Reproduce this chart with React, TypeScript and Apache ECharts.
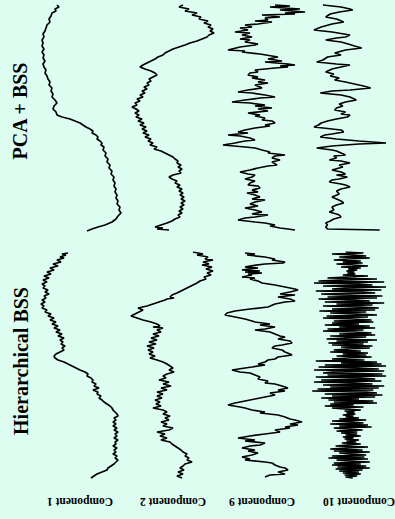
import React, { useEffect, useRef } from "react";
import * as echarts from "echarts";

// Time axis (samples, 0..228) and amplitude (arbitrary units, -50..50) per component.
const TIME_MAX = 228;

// ---- PCA + BSS ----
const pcaComp1: number[][] = [
  [1,-23],[3,-21],[5,-25],[7,-24],[9,-28],[12,-29],[15,-31],[18,-30],[21,-33],[24,-34],[27,-35],[30,-37],[33,-36],[36,-38],[39,-37],[42,-38],[45,-36],[48,-38],[51,-36],[54,-37],[57,-35],[60,-37],[63,-36],[66,-34],[69,-35],[72,-33],[75,-32],[78,-30],[81,-31],[84,-28],[87,-29],[90,-27],[93,-28],[96,-25],[99,-23],[102,-26],[105,-27],[108,-24],[111,-23],[113,-18],[115,-10],[117,-5],[119,0],[121,3],[123,6],[125,10],[127,13],[129,12],[131,16],[133,18],[135,17],[137,20],[139,22],[141,21],[143,24],[146,23],[149,26],[152,25],[155,28],[158,27],[161,30],[164,29],[167,32],[170,31],[173,34],[176,33],[179,35],[182,34],[185,36],[188,35],[191,37],[194,36],[197,38],[200,37],[203,40],[206,39],[209,41],[212,38],[215,36],[218,32],[221,25],[223,18],[225,12],[227,7]
];
const pcaComp2: number[][] = [
  [1,8],[3,4],[5,14],[7,10],[9,22],[11,17],[13,26],[15,24],[17,33],[19,29],[21,36],[23,33],[25,38],[27,35],[29,39],[31,34],[33,32],[35,27],[37,22],[39,15],[41,10],[43,4],[45,-2],[47,-6],[49,-10],[51,-12],[53,-17],[55,-20],[57,-24],[59,-28],[61,-32],[63,-35],[65,-30],[67,-24],[69,-20],[71,-18],[73,-22],[75,-26],[77,-24],[79,-28],[81,-26],[83,-31],[85,-28],[87,-33],[89,-30],[91,-35],[93,-32],[95,-38],[97,-35],[99,-40],[101,-38],[103,-43],[105,-39],[107,-36],[109,-40],[111,-36],[113,-39],[115,-33],[117,-37],[119,-31],[121,-35],[123,-29],[125,-33],[127,-28],[129,-32],[131,-26],[133,-30],[135,-24],[137,-27],[139,-22],[141,-25],[143,-18],[145,-21],[147,-14],[149,-10],[151,-6],[153,-2],[155,0],[157,3],[159,2],[161,6],[163,3],[165,7],[167,4],[169,6],[171,-2],[173,-6],[175,-3],[177,2],[179,0],[181,5],[183,2],[185,7],[187,4],[189,8],[191,5],[193,9],[195,6],[197,10],[199,6],[201,9],[203,5],[205,8],[207,4],[209,7],[211,3],[213,5],[215,0],[217,-3],[219,-8],[221,-14],[223,-20],[224,-12],[225,-18],[226,-6]
];
const pcaComp9: number[][] = [
  [1,15],[2,30],[3,10],[5,40],[6,20],[8,45],[9,25],[10,35],[11,2],[13,20],[14,5],[16,8],[17,-5],[18,12],[20,-2],[21,-15],[23,-8],[24,-20],[26,-12],[28,-25],[29,-10],[31,-18],[33,-8],[35,-20],[36,-10],[38,-15],[40,-2],[41,-5],[43,-20],[45,-28],[46,-32],[47,-15],[48,-18],[50,0],[52,12],[53,18],[55,8],[57,22],[58,5],[60,28],[61,35],[62,20],[63,28],[64,15],[66,-5],[68,-2],[69,-10],[71,-12],[73,-2],[74,-8],[76,5],[78,-2],[79,8],[81,-5],[83,0],[84,2],[86,-12],[88,-22],[89,-8],[91,5],[93,15],[94,0],[96,-15],[98,-28],[99,-10],[101,5],[102,-5],[104,12],[105,-2],[107,8],[109,-12],[111,0],[112,-5],[114,5],[116,2],[117,12],[119,15],[121,5],[122,10],[124,-5],[126,-15],[128,-22],[129,-12],[131,-32],[132,-20],[134,-10],[136,-5],[137,-15],[139,-25],[141,-37],[143,-15],[144,-5],[146,2],[148,10],[149,8],[151,25],[152,15],[154,12],[156,20],[158,12],[161,17],[162,8],[164,-2],[166,-10],[168,-20],[170,-12],[171,-5],[173,-8],[175,-15],[177,-5],[179,-10],[181,-12],[182,-2],[184,0],[186,-8],[188,-2],[189,-13],[191,-5],[193,0],[195,-8],[196,5],[198,-5],[200,-10],[202,-2],[204,-15],[206,-5],[208,2],[210,-8],[211,8],[213,-5],[214,-15],[216,-22],[218,-5],[219,5],[221,15],[222,10],[224,20],[225,28],[226,35]
];
const pcaComp10: number[][] = [
  [1,-30],[3,-10],[5,0],[6,3],[8,-12],[10,-22],[13,-27],[15,-15],[18,-7],[20,-20],[23,-32],[26,-40],[28,-20],[31,0],[33,-5],[34,-15],[36,-27],[38,-10],[40,-2],[42,5],[44,13],[46,-5],[49,-17],[51,-10],[53,-25],[56,-30],[58,-37],[60,-15],[61,0],[63,-10],[65,-20],[68,-27],[70,-18],[72,-22],[74,-12],[76,-17],[78,-5],[80,5],[82,15],[84,23],[86,0],[87,-20],[89,-33],[91,-10],[93,0],[96,7],[98,-5],[100,-12],[102,-8],[104,-15],[106,-17],[108,-5],[110,-10],[111,0],[113,-3],[115,-15],[117,-25],[119,-32],[121,-35],[123,-40],[125,-20],[126,-10],[128,-7],[130,-20],[131,-28],[133,-33],[135,-15],[137,10],[139,40],[140,10],[142,-20],[144,-37],[146,-20],[147,-15],[149,-10],[151,-5],[152,-18],[154,-15],[156,-23],[157,-10],[159,0],[161,-12],[163,-8],[166,-20],[168,-10],[170,-5],[171,-15],[173,-3],[175,-12],[176,-20],[178,-23],[180,-10],[181,-5],[183,0],[185,-10],[187,-15],[190,-12],[193,-20],[195,-15],[197,-10],[199,-7],[201,-15],[203,-20],[206,-18],[208,-23],[210,-15],[211,-12],[213,-10],[215,-18],[217,-22],[219,-27],[221,-25],[223,-27],[225,-25],[226,33]
];

// ---- Hierarchical BSS ----
const hierComp1: number[][] = [
  [1,-12],[2,-18],[3,-14],[5,-20],[6,-16],[8,-23],[10,-19],[12,-27],[14,-22],[16,-30],[18,-26],[20,-33],[22,-29],[24,-36],[26,-31],[28,-37],[30,-33],[32,-38],[34,-35],[36,-37],[38,-32],[40,-35],[42,-31],[44,-36],[46,-34],[48,-38],[50,-35],[52,-39],[54,-36],[56,-38],[58,-33],[60,-35],[62,-29],[64,-32],[66,-26],[68,-30],[70,-24],[72,-28],[74,-22],[76,-26],[78,-20],[80,-24],[82,-18],[84,-22],[86,-16],[88,-20],[90,-17],[92,-19],[94,-15],[96,-18],[98,-16],[100,-20],[102,-24],[104,-26],[106,-25],[108,-22],[110,-16],[112,-12],[114,-8],[116,-4],[118,0],[120,5],[122,8],[124,7],[126,11],[128,13],[130,12],[132,16],[134,14],[136,19],[138,13],[140,18],[142,17],[144,21],[146,19],[148,22],[150,24],[152,27],[154,30],[156,32],[158,33],[160,35],[162,37],[164,38],[166,34],[168,36],[170,33],[172,36],[174,33],[176,37],[178,34],[180,38],[182,35],[184,37],[186,34],[188,38],[190,35],[192,36],[194,33],[196,37],[198,34],[200,36],[202,33],[204,37],[206,35],[208,38],[210,36],[212,34],[214,31],[216,28],[218,27],[220,22],[222,17],[224,14],[226,11]
];
const hierComp2: number[][] = [
  [0,18],[2,28],[3,22],[5,33],[7,30],[8,38],[10,28],[12,34],[13,27],[15,37],[17,31],[19,38],[21,32],[23,36],[25,29],[27,31],[29,25],[31,22],[33,18],[35,14],[37,10],[39,6],[41,2],[43,-3],[45,-5],[46,-1],[47,-8],[48,-10],[50,-16],[52,-22],[54,-28],[56,-37],[58,-32],[60,-36],[62,-40],[64,-44],[66,-38],[68,-32],[70,-24],[72,-18],[74,-15],[75,-22],[76,-12],[78,-18],[80,-14],[82,-22],[84,-16],[86,-24],[88,-18],[90,-26],[92,-19],[94,-28],[96,-21],[98,-27],[100,-22],[102,-26],[104,-20],[106,-25],[108,-18],[110,-12],[112,-8],[114,-5],[116,-2],[118,-6],[120,-1],[122,-8],[124,-12],[126,-9],[128,-16],[130,-6],[132,-12],[134,-4],[136,-14],[138,-8],[140,-18],[142,-12],[144,-18],[146,-13],[148,-20],[150,-15],[152,-19],[154,-14],[156,-22],[158,-12],[160,-8],[162,-12],[164,-5],[166,-10],[168,-6],[170,-14],[172,-8],[174,-12],[176,-2],[178,-6],[180,-18],[182,-10],[184,-15],[186,-8],[188,-14],[190,-5],[192,-3],[194,0],[196,3],[198,6],[200,8],[202,12],[204,10],[206,14],[208,12],[210,17],[212,10],[214,8],[216,5],[218,9],[220,3],[222,8],[224,2],[226,7]
];
const hierComp9: number[][] = [
  [1,-15],[2,-5],[3,-13],[5,5],[7,15],[8,12],[10,25],[11,23],[12,5],[14,-10],[15,-15],[16,-2],[17,-12],[18,-18],[19,0],[20,-15],[21,2],[22,-12],[23,-8],[25,-18],[26,-5],[27,-10],[29,-2],[31,2],[33,15],[35,25],[37,35],[38,38],[40,30],[42,20],[43,35],[45,18],[47,30],[49,35],[50,25],[52,15],[55,8],[57,-10],[59,-25],[61,-33],[63,-35],[65,-25],[67,-15],[69,-8],[70,-5],[72,10],[73,0],[75,15],[77,5],[78,-5],[80,10],[82,15],[84,20],[85,25],[87,18],[89,30],[91,32],[93,22],[94,15],[96,12],[98,22],[100,25],[102,30],[103,32],[105,18],[107,15],[108,8],[110,5],[112,-2],[113,5],[115,-8],[116,-15],[118,-28],[120,-20],[121,-10],[123,-5],[125,0],[127,-2],[129,8],[131,5],[132,15],[134,22],[136,28],[138,18],[139,25],[141,10],[143,15],[145,5],[147,-5],[149,-15],[151,-25],[153,-32],[155,-20],[156,-15],[158,-8],[160,5],[161,0],[163,18],[165,25],[167,30],[168,35],[170,42],[172,30],[173,38],[175,25],[176,30],[178,15],[180,20],[182,5],[184,-10],[186,-22],[188,-5],[189,-15],[191,5],[193,0],[194,-10],[196,-18],[198,-5],[199,-12],[201,-2],[203,-8],[205,-18],[207,-10],[208,-15],[210,5],[211,12],[213,15],[215,20],[216,25],[218,28],[220,18],[222,25],[223,10],[225,5]
];
// one value per time sample (t = index)
const hierComp10: number[] = [
  -5,15,-20,4,18,-12,22,-3,-18,12,-8,
  14,-15,3,20,-10,12,-2,8,-4,5,-3,6,
  -8,20,-5,-25,30,-12,-35,38,-40,10,25,-30,40,-6,-20,35,-38,15,28,-32,-10,36,-25,30,-35,5,22,-28,38,-15,25,-30,12,32,-20,28,
  -34,18,-22,8,30,-26,20,-30,2,24,-18,26,-20,10,-28,22,-12,28,-25,15,
  -30,4,24,-12,28,-22,18,-6,-26,30,-15,20,-24,15,-20,25,-10,22,-4,-18,12,-22,20,-8,18,-15,24,-2,-20,16,
  -38,30,-10,35,-28,40,-35,8,32,-40,38,-20,-30,36,-25,40,-38,12,28,-32,35,-40,5,25,-30,38,-22,32,-36,26,-42,18,30,-28,36,
  -20,28,-32,10,-24,26,-18,30,-22,4,-28,15,-20,-6,12,
  -6,5,-4,6,-8,4,-5,10,
  -12,18,-20,3,15,-22,20,-12,24,-18,-4,14,-15,8,
  -10,8,-5,12,-8,4,-6,10,-4,7,-9,12,-3,
  -16,20,-5,-22,14,-18,22,-12,2,18,-20,16,-24,20,-15,-3,22,-18,12,-20,18,-14,22,-16,14,
  -12,10,-8,12,-6,8,-5,3
];

const panelTitles = ["PCA + BSS", "Hierarchical BSS"];
const componentLabels = ["Component 1", "Component 2", "Component 9", "Component 10"];

const laneCenters = [80, 175, 260, 355];
const panelTops = [4, 252];

export default function App() {
  const ref = useRef<HTMLDivElement>(null);
  useEffect(() => {
    if (!ref.current) return;
    const chart = echarts.init(ref.current, undefined, { renderer: "svg" });
    const panels = [
      [pcaComp1, pcaComp2, pcaComp9, pcaComp10],
      [hierComp1, hierComp2, hierComp9, hierComp10.map((v, i) => [i, v])],
    ];
    const grid: any[] = [];
    const xAxis: any[] = [];
    const yAxis: any[] = [];
    const series: any[] = [];
    panels.forEach((lanes, p) => {
      lanes.forEach((data, l) => {
        const idx = grid.length;
        grid.push({ left: laneCenters[l] - 50, width: 100, top: panelTops[p], height: TIME_MAX });
        xAxis.push({ type: "value", gridIndex: idx, min: -50, max: 50, show: false });
        yAxis.push({ type: "value", gridIndex: idx, min: 0, max: TIME_MAX, inverse: true, show: false });
        series.push({
          type: "line",
          xAxisIndex: idx,
          yAxisIndex: idx,
          data: data.map(([t, v]) => [v, t]),
          showSymbol: false,
          lineStyle: { color: "#000", width: 1.7 },
          silent: true,
        });
      });
    });
    const font = '"Liberation Serif", "Times New Roman", serif';
    const graphic: any[] = [
      {
        type: "text", x: 20, y: 111, rotation: Math.PI / 2,
        style: { text: panelTitles[0], fontSize: 20, fontWeight: "bold", fontFamily: font, fill: "#000", align: "center", verticalAlign: "middle", textAlign: "center", textVerticalAlign: "middle" },
      },
      {
        type: "text", x: 21, y: 361, rotation: Math.PI / 2,
        style: { text: panelTitles[1], fontSize: 20, fontWeight: "bold", fontFamily: font, fill: "#000", align: "center", verticalAlign: "middle", textAlign: "center", textVerticalAlign: "middle" },
      },
    ];
    const labelX = [80, 173, 262, 359];
    componentLabels.forEach((txt, i) => {
      graphic.push({
        type: "text", x: labelX[i], y: 502, rotation: Math.PI,
        style: { text: txt, fontSize: 11.5, fontWeight: "bold", fontFamily: font, fill: "#000", align: "center", verticalAlign: "middle", textAlign: "center", textVerticalAlign: "middle" },
      });
    });
    chart.setOption({
      animation: false,
      backgroundColor: "#dcfdf0",
      grid, xAxis, yAxis, series, graphic,
    });
    return () => chart.dispose();
  }, []);
  return <div ref={ref} style={{ position: "fixed", left: 0, top: 0, width: 395, height: 519 }} />;
}
